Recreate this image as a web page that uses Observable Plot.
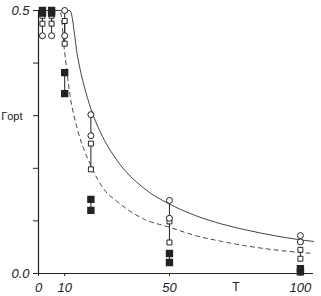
<!DOCTYPE html>
<html><head><meta charset="utf-8">
<script src="https://cdn.jsdelivr.net/npm/d3@7"></script>
<script src="https://cdn.jsdelivr.net/npm/@observablehq/plot@0.6"></script>
<style>body{margin:0;background:#fff}</style>
</head><body><div id="chart"></div>
<script>
// Data
const T = [1.5, 5, 10, 20, 50, 100];
const circleHi = [0.5, 0.5, 0.5, 0.302, 0.139, 0.072];
const circleLo = [0.452, 0.452, 0.452, 0.262, 0.105, 0.060];
const squareHi = [0.49, 0.49, 0.48, 0.247, 0.099, 0.045];
const squareLo = [0.475, 0.475, 0.437, 0.198, 0.059, 0.028];
const filledHi = [0.5, 0.5, 0.382, 0.141, 0.038, 0.009];
const filledLo = [0.495, 0.495, 0.342, 0.120, 0.021, 0.003];

const solidT = [0, 12, 15, 20, 23.7, 30, 40, 50, 60, 70, 80, 90, 100, 105];
const solidG = [0.5, 0.5, 0.41, 0.313, 0.268, 0.215, 0.163, 0.132, 0.11, 0.094, 0.082, 0.072, 0.064, 0.061];
const dashT = [0, 8.2, 10, 12, 15, 20, 25, 30, 40, 50, 60, 70, 80, 90, 100, 105];
const dashG = [0.5, 0.5, 0.42, 0.34, 0.272, 0.205, 0.16, 0.137, 0.104, 0.088, 0.072, 0.061, 0.052, 0.045, 0.040, 0.038];

const xTicks = [0, 10, 50, 100];
const yTicks = [0, 0.1, 0.2, 0.3, 0.4, 0.5];
const yTickLabels = {0: "0.0", 0.5: "0.5"};
const xLabel = "T";
const yLabel = "Γopt";

const solid = solidT.map((t, i) => ({t, g: solidG[i]}));
const dashed = dashT.map((t, i) => ({t, g: dashG[i]}));
const pairs = (hi, lo) => T.map((t, i) => ({t, hi: hi[i], lo: lo[i]}));
const circles = pairs(circleHi, circleLo);
const squares = pairs(squareHi, squareLo);
const filled = pairs(filledHi, filledLo);
const pts = (arr) => arr.flatMap(d => [{t: d.t, g: d.hi}, {t: d.t, g: d.lo}]);

const ink = "#222";
const chart = Plot.plot({
  width: 321, height: 296,
  marginLeft: 38, marginRight: 8, marginTop: 10, marginBottom: 23,
  x: {domain: [0, 105]},
  y: {domain: [0, 0.5]},
  style: {fontFamily: "Liberation Sans, sans-serif", fontSize: "12px", color: ink, background: "white"},
  marks: [
    Plot.line(solid, {x: "t", y: "g", stroke: "#444", strokeWidth: 1, curve: "monotone-x"}),
    Plot.line(dashed, {x: "t", y: "g", stroke: "#444", strokeWidth: 1, strokeDasharray: "4,4", curve: "monotone-x"}),
    Plot.ruleX(circles, {x: "t", y1: "lo", y2: "hi", stroke: ink}),
    Plot.ruleX(squares, {x: "t", y1: "lo", y2: "hi", stroke: ink}),
    Plot.ruleX(filled, {x: "t", y1: "lo", y2: "hi", stroke: ink}),
    Plot.dot(pts(squares), {x: "t", y: "g", symbol: "square", r: 2.8, fill: "white", stroke: ink, strokeWidth: 1}),
    Plot.dot(pts(circles), {x: "t", y: "g", symbol: "circle", r: 3, fill: "white", stroke: ink, strokeWidth: 1}),
    Plot.dot(pts(filled), {x: "t", y: "g", symbol: "square", r: 3.3, fill: ink, stroke: ink}),
    Plot.ruleX([0], {stroke: ink, strokeWidth: 1.2}),
    Plot.ruleY([0], {stroke: ink, strokeWidth: 1.2}),
    Plot.axisY({ticks: yTicks, tickSize: 5, tickPadding: 4, tickFormat: d => yTickLabels[d] ?? "", fontStyle: "italic", fontSize: 13, label: null}),
    Plot.axisX({ticks: xTicks, tickSize: 3, tickPadding: 6, tickFormat: d => String(d), fontStyle: "italic", fontSize: 13, label: null}),
    Plot.text([xLabel], {frameAnchor: "bottom", dx: 60, dy: 17, fontSize: 12}),
    Plot.text([yLabel], {frameAnchor: "left", textAnchor: "end", dx: -16, dy: -26, fontSize: 11})
  ]
});
document.getElementById("chart").appendChild(chart);
</script>
</body></html>
